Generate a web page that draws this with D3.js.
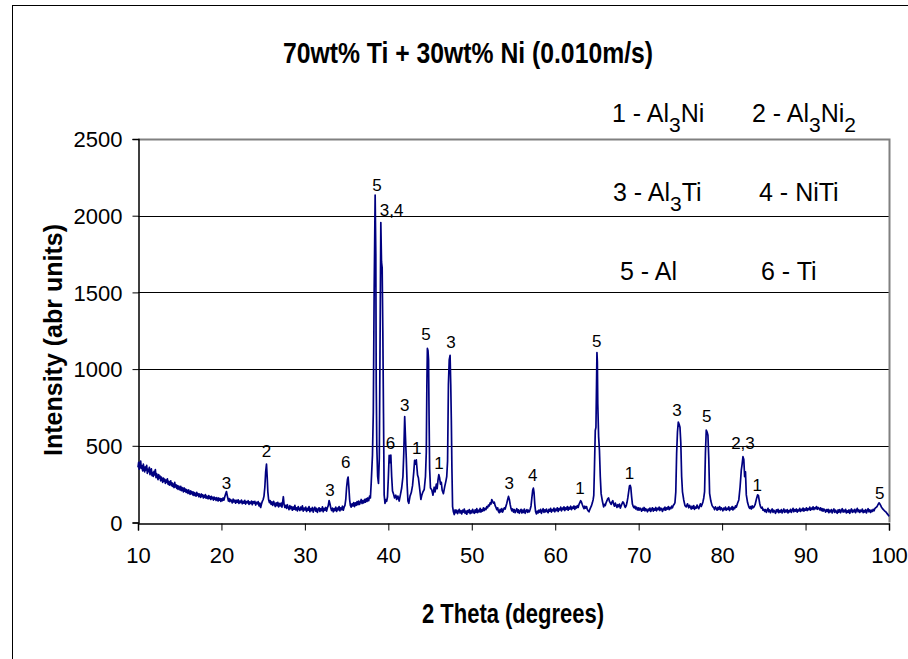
<!DOCTYPE html>
<html><head><meta charset="utf-8">
<script src="https://cdn.jsdelivr.net/npm/d3@7/dist/d3.min.js"></script>
<style>
body{margin:0;background:#fff}
svg{display:block}
text{font-family:"Liberation Sans",Arial,Helvetica,sans-serif;fill:#000}
</style>
</head><body>
<svg id="chart" width="908" height="659"></svg>
<script>
// ---- data ----
const chartTitle = "70wt% Ti + 30wt% Ni (0.010m/s)";
const xTitle = "2 Theta (degrees)";
const yTitle = "Intensity (abr units)";
const xTicks = [10,20,30,40,50,60,70,80,90,100];
const yTicks = [0,500,1000,1500,2000,2500];

// [2theta, intensity]
const spectrum = [
[10.0,360],[10.08,392],[10.16,348],[10.24,378],[10.32,400],[10.4,352],[10.48,370],[10.56,336],[10.64,380],[10.72,350],[10.8,330],[10.88,362],[10.96,342],[11.04,372],[11.12,320],[11.2,346],[11.28,332],[11.36,360],[11.44,312],[11.52,338],[11.6,350],[11.68,305],[11.76,326],[11.84,300],[11.92,334],[12.0,310],[12.08,345],[12.16,292],[12.24,318],[12.32,300],[12.4,280],[12.48,312],[12.56,290],[12.64,302],[12.72,272],[12.8,296],[12.88,284],[12.96,262],[13.04,290],[13.12,270],[13.2,282],[13.28,255],[13.36,276],[13.44,262],[13.52,284],[13.6,250],[13.68,268],[13.76,244],[13.84,262],[13.92,272],[14.0,240],[14.08,258],[14.16,236],[14.24,250],[14.32,228],[14.4,262],[14.48,232],[14.56,246],[14.64,222],[14.72,240],[14.8,216],[14.88,238],[14.96,226],[15.04,212],[15.12,236],[15.2,208],[15.28,228],[15.36,214],[15.44,200],[15.52,226],[15.6,204],[15.68,218],[15.76,196],[15.84,214],[15.92,200],[16.0,190],[16.08,212],[16.16,196],[16.24,184],[16.32,206],[16.4,188],[16.48,200],[16.56,180],[16.64,198],[16.72,176],[16.8,194],[16.88,184],[16.96,172],[17.04,196],[17.12,178],[17.2,188],[17.28,168],[17.36,186],[17.44,174],[17.52,164],[17.6,186],[17.68,170],[17.76,180],[17.84,160],[17.92,176],[18.0,166],[18.08,182],[18.16,158],[18.24,172],[18.32,162],[18.4,154],[18.48,176],[18.56,158],[18.64,168],[18.72,150],[18.8,170],[18.88,156],[18.96,164],[19.04,146],[19.12,166],[19.2,152],[19.28,160],[19.36,144],[19.44,162],[19.52,150],[19.6,140],[19.68,160],[19.76,146],[19.84,156],[19.92,138],
[20.0,154],[20.1,142],[20.2,160],[20.3,146],[20.4,168],[20.5,185],[20.6,202],[20.68,180],[20.76,160],[20.84,140],[20.92,156],[21.0,136],[21.1,150],[21.2,140],[21.3,128],[21.4,152],[21.5,134],[21.6,146],[21.7,126],[21.8,144],[21.9,132],[22.0,148],[22.1,124],[22.2,140],[22.3,130],[22.4,146],[22.5,122],[22.6,138],[22.7,126],[22.8,144],[22.9,120],[23.0,136],[23.1,128],[23.2,142],[23.3,118],[23.4,134],[23.5,124],[23.6,140],[23.7,116],[23.8,136],[23.9,126],[24.0,138],[24.1,114],[24.2,132],[24.3,122],[24.4,136],[24.5,108],[24.6,126],[24.7,98],[24.8,120],[24.9,138],[25.0,150],[25.1,172],[25.2,230],[25.3,330],[25.4,380],[25.48,300],[25.56,200],[25.65,150],[25.75,130],[25.85,142],[25.95,118],[26.05,134],[26.15,112],[26.25,138],[26.35,120],[26.45,104],[26.55,128],[26.65,110],[26.75,132],[26.85,102],[26.95,124],[27.05,108],[27.15,126],[27.25,100],[27.35,140],[27.42,168],[27.5,120],[27.6,98],[27.7,112],[27.8,92],[27.9,116],[28.0,96],[28.1,84],[28.2,110],[28.3,90],[28.4,104],[28.5,80],[28.6,100],[28.7,86],[28.8,112],[28.9,82],[29.0,96],[29.1,76],[29.2,104],[29.3,88],[29.4,78],[29.5,100],[29.6,84],[29.7,108],[29.8,74],[29.9,94],
[30.0,82],[30.1,100],[30.2,72],[30.3,92],[30.4,80],[30.5,104],[30.6,70],[30.7,90],[30.8,78],[30.9,98],[31.0,68],[31.1,88],[31.2,100],[31.3,74],[31.4,92],[31.5,66],[31.6,86],[31.7,96],[31.8,72],[31.9,90],[32.0,78],[32.1,102],[32.2,70],[32.3,92],[32.4,80],[32.5,98],[32.6,74],[32.7,96],[32.8,110],[32.9,143],[33.0,122],[33.1,96],[33.2,78],[33.3,94],[33.4,70],[33.5,90],[33.6,78],[33.7,100],[33.8,72],[33.9,94],[34.0,82],[34.1,104],[34.2,76],[34.3,96],[34.4,84],[34.5,106],[34.6,80],[34.7,100],[34.8,112],[34.9,150],[35.0,230],[35.1,280],[35.18,296],[35.27,230],[35.36,150],[35.45,112],[35.55,100],[35.65,122],[35.75,108],[35.85,130],[35.95,104],[36.05,128],[36.15,112],[36.25,136],[36.35,116],[36.45,140],[36.55,118],[36.65,132],[36.75,150],[36.85,124],[36.95,142],[37.05,128],[37.15,150],[37.25,132],[37.35,156],[37.45,138],[37.55,160],[37.65,142],[37.75,172],[37.85,160],
[37.95,260],[38.1,440],[38.2,720],[38.3,1500],[38.42,2135],[38.5,1750],[38.55,900],[38.62,494],[38.72,300],[38.82,255],[38.92,420],[39.0,1100],[39.1,1955],[39.18,1700],[39.26,1662],[39.34,1250],[39.42,710],[39.5,180],[39.6,125],[39.7,150],[39.8,138],[39.9,168],[40.0,290],[40.1,437],[40.2,390],[40.3,440],[40.4,300],[40.5,205],[40.6,190],[40.75,160],[40.9,178],[41.0,150],[41.15,172],[41.3,140],[41.45,182],[41.6,225],[41.75,300],[41.85,450],[41.96,690],[42.05,560],[42.15,420],[42.25,250],[42.35,140],[42.45,125],[42.6,172],[42.75,195],[42.9,240],[43.05,330],[43.15,405],[43.25,380],[43.35,408],[43.5,310],[43.6,292],[43.75,222],[43.9,150],[44.0,176],[44.15,200],[44.3,215],[44.45,300],[44.55,460],[44.62,900],[44.68,1135],[44.75,1122],[44.82,1060],[44.88,700],[44.95,350],[45.05,225],[45.2,214],[45.35,178],[45.5,230],[45.6,200],[45.75,250],[45.85,220],[45.95,276],[46.05,312],[46.15,290],[46.25,250],[46.35,262],[46.45,210],[46.6,188],[46.75,232],[46.9,270],[47.0,300],[47.1,400],[47.2,900],[47.3,1060],[47.4,1090],[47.48,900],[47.55,667],[47.62,350],[47.7,104],[47.8,70],[47.9,52],[48.0,82],
[48.1,64],[48.2,80],[48.3,58],[48.4,74],[48.5,86],[48.6,62],[48.7,76],[48.8,56],[48.9,80],[49.0,68],[49.1,88],[49.2,60],[49.3,74],[49.4,54],[49.5,78],[49.6,66],[49.7,84],[49.8,58],[49.9,76],[50.0,62],[50.1,86],[50.2,70],[50.3,60],[50.4,82],[50.5,66],[50.6,90],[50.7,64],[50.8,80],[50.9,70],[51.0,92],[51.1,68],[51.2,84],[51.3,74],[51.4,96],[51.5,78],[51.6,92],[51.7,84],[51.8,104],[51.9,96],[52.0,114],[52.1,108],[52.2,128],[52.3,120],[52.4,150],[52.5,138],[52.6,126],[52.7,132],[52.8,110],[52.9,98],[53.0,84],[53.1,96],[53.2,72],[53.3,64],[53.4,86],[53.5,70],[53.6,90],[53.7,68],[53.8,84],[53.9,96],[54.0,88],[54.1,108],[54.2,126],[54.3,150],[54.4,170],[54.5,152],[54.6,118],[54.7,92],[54.8,76],[54.9,88],[55.0,68],[55.1,84],[55.2,64],[55.3,78],[55.4,90],[55.5,66],[55.6,82],[55.7,60],[55.8,76],[55.9,86],[56.0,62],[56.1,80],[56.2,66],[56.3,88],[56.4,60],[56.5,74],[56.6,84],[56.7,66],[56.8,80],[56.9,70],[57.0,86],[57.1,108],[57.2,160],[57.3,210],[57.38,224],[57.46,196],[57.55,120],[57.65,70],[57.75,56],[57.85,74],[57.95,62],[58.05,80],[58.15,68],[58.25,86],[58.35,60],[58.45,76],[58.55,90],[58.65,66],[58.75,82],[58.85,70],[58.95,88],[59.05,72],[59.15,64],[59.25,86],[59.35,74],[59.45,92],[59.55,68],[59.65,84],[59.75,76],[59.85,94],[59.95,70],
[60.05,88],[60.15,78],[60.25,96],[60.35,72],[60.45,90],[60.55,82],[60.65,100],[60.75,76],[60.85,94],[60.95,84],[61.05,102],[61.15,78],[61.25,96],[61.35,86],[61.45,104],[61.55,80],[61.65,98],[61.75,88],[61.85,106],[61.95,84],[62.05,100],[62.15,92],[62.25,108],[62.35,86],[62.45,104],[62.55,94],[62.65,110],[62.75,98],[62.85,118],[62.95,130],[63.05,142],[63.15,132],[63.25,116],[63.35,102],[63.45,90],[63.55,106],[63.65,94],[63.75,104],[63.85,84],[63.95,76],[64.05,70],[64.15,86],[64.25,98],[64.35,110],[64.45,128],[64.55,150],[64.62,177],[64.7,350],[64.8,600],[64.88,620],[64.95,900],[65.0,1108],[65.05,1050],[65.1,773],[65.2,560],[65.3,470],[65.4,300],[65.5,188],[65.65,140],[65.8,102],
[65.9,118],[66.0,110],[66.1,130],[66.2,142],[66.3,156],[66.4,160],[66.5,138],[66.6,128],[66.7,118],[66.8,134],[66.9,142],[67.0,120],[67.1,106],[67.2,126],[67.3,112],[67.4,98],[67.5,116],[67.6,104],[67.7,120],[67.8,94],[67.9,108],[68.0,122],[68.1,134],[68.2,128],[68.3,110],[68.4,98],[68.5,108],[68.6,130],[68.7,160],[68.8,200],[68.9,238],[68.98,242],[69.06,228],[69.15,170],[69.25,120],[69.35,104],[69.45,96],[69.55,106],[69.65,88],[69.75,100],[69.85,82],[69.95,96],
[70.05,80],[70.15,94],[70.25,86],[70.35,74],[70.45,92],[70.55,80],[70.65,98],[70.75,76],[70.85,90],[70.95,82],[71.05,70],[71.15,88],[71.25,78],[71.35,94],[71.45,72],[71.55,86],[71.65,96],[71.75,74],[71.85,90],[71.95,80],[72.05,98],[72.15,76],[72.25,92],[72.35,84],[72.45,100],[72.55,78],[72.65,94],[72.75,86],[72.85,72],[72.95,92],[73.05,82],[73.15,100],[73.25,80],[73.35,96],[73.45,88],[73.55,104],[73.65,84],[73.75,98],[73.85,90],[73.95,106],[74.05,96],[74.15,112],[74.25,118],[74.35,130],
[74.45,200],[74.55,450],[74.65,590],[74.75,654],[74.85,640],[74.95,621],[75.05,520],[75.15,300],[75.25,200],[75.4,147],[75.55,110],[75.7,102],[75.85,122],[76.0,96],[76.1,112],[76.2,100],[76.3,88],[76.4,106],[76.5,92],[76.6,110],[76.7,86],[76.8,100],[76.9,94],[77.0,114],[77.1,98],[77.2,90],[77.3,108],[77.4,122],[77.5,104],[77.6,118],[77.7,134],[77.8,160],[77.9,201],[78.0,450],[78.1,602],[78.2,590],[78.3,569],[78.4,420],[78.5,190],[78.65,140],[78.8,110],[78.9,102],
[79.0,96],[79.1,84],[79.2,102],[79.3,92],[79.4,80],[79.5,98],[79.6,86],[79.7,104],[79.8,82],[79.9,96],[80.0,88],[80.1,76],[80.2,94],[80.3,84],[80.4,100],[80.5,80],[80.6,92],[80.7,86],[80.8,102],[80.9,78],[81.0,94],[81.1,88],[81.2,104],[81.3,82],[81.4,98],[81.5,90],[81.6,108],[81.7,100],[81.85,125],[82.0,147],[82.15,230],[82.3,342],[82.4,380],[82.5,429],[82.6,410],[82.7,299],[82.8,330],[82.9,180],[83.05,130],[83.2,102],[83.3,92],[83.4,104],[83.5,88],[83.6,108],[83.7,96],[83.8,100],[83.95,116],[84.1,150],[84.25,180],[84.35,176],[84.5,126],[84.6,104],[84.7,94],[84.8,100],[84.9,80],
[85.0,86],[85.1,72],[85.2,84],[85.3,66],[85.4,80],[85.5,92],[85.6,70],[85.7,82],[85.8,64],[85.9,78],[86.0,88],[86.1,66],[86.2,80],[86.3,72],[86.4,60],[86.5,82],[86.6,70],[86.7,86],[86.8,64],[86.9,78],[87.0,68],[87.1,84],[87.2,62],[87.3,76],[87.4,88],[87.5,66],[87.6,80],[87.7,70],[87.8,84],[87.9,62],[88.0,78],[88.1,70],[88.2,86],[88.3,66],[88.4,80],[88.5,92],[88.6,70],[88.7,84],[88.8,74],[88.9,88],[89.0,68],[89.1,82],[89.2,76],[89.3,92],[89.4,72],[89.5,86],[89.6,78],[89.7,94],[89.8,74],[89.9,88],
[90.0,80],[90.1,96],[90.2,78],[90.3,90],[90.4,84],[90.5,100],[90.6,80],[90.7,94],[90.8,86],[90.9,102],[91.0,84],[91.1,96],[91.2,90],[91.3,104],[91.4,86],[91.5,98],[91.6,92],[91.7,82],[91.8,96],[91.9,78],[92.0,90],[92.1,74],[92.2,88],[92.3,80],[92.4,68],[92.5,84],[92.6,72],[92.7,86],[92.8,64],[92.9,80],[93.0,70],[93.1,84],[93.2,62],[93.3,78],[93.4,88],[93.5,66],[93.6,80],[93.7,70],[93.8,60],[93.9,82],[94.0,68],[94.1,84],[94.2,64],[94.3,78],[94.4,90],[94.5,68],[94.6,80],[94.7,70],[94.8,86],[94.9,62],[95.0,76],[95.1,66],[95.2,82],[95.3,60],[95.4,78],[95.5,88],[95.6,66],[95.7,80],[95.8,70],[95.9,86],[96.0,64],[96.1,78],[96.2,92],[96.3,70],[96.4,82],[96.5,66],[96.6,80],[96.7,72],[96.8,88],[96.9,64],[97.0,78],[97.1,68],[97.2,84],[97.3,62],[97.4,78],[97.5,90],[97.6,70],[97.7,82],[97.8,66],[97.9,80],[98.0,72],[98.1,86],[98.2,76],[98.3,90],[98.4,96],[98.5,100],[98.6,108],[98.7,118],[98.8,128],[98.9,122],[99.0,112],[99.1,100],[99.2,92],[99.3,86],[99.4,80],[99.5,74],[99.6,70],[99.7,64],[99.8,56],[99.9,50],[100.0,40]
];

// peak annotations: text, 2theta, intensity of label centre
const peakText  = ["3","2","3","6","5","3,4","6","3","1","5","1","3","3","4","1","5","1","3","5","2,3","1","5"];
const peakTheta = [20.6,25.4,33.0,34.9,38.65,40.4,40.25,41.97,43.4,44.5,46.06,47.5,54.5,57.3,62.97,64.98,68.9,74.6,78.15,82.5,84.2,98.9];
const peakLevel = [255,466,215,395,2200,2040,515,764,485,1232,388,1178,258,310,224,1186,324,735,693,520,247,192];

// legend: number and formula ("_" marks a subscript digit)
const legendNum  = ["1","2","3","4","5","6"];
const legendName = ["Al_3Ni","Al_3Ni_2","Al_3Ti","NiTi","Al","Ti"];

// ---- drawing ----
const W = 908, H = 659;
const svg = d3.select("#chart");
svg.append("rect").attr("width",W).attr("height",H).attr("fill","#fff");
// outer frame
svg.append("rect").attr("x",12.5).attr("y",5.5).attr("width",W+20).attr("height",H+20)
  .attr("fill","none").attr("stroke","#000").attr("stroke-width",1);

const x = d3.scaleLinear().domain([10,100]).range([138,889]);
const y = d3.scaleLinear().domain([0,2500]).range([522.5,139]);

// grid lines
svg.append("g").selectAll("line").data(yTicks.filter(v=>v>0 && v<2500)).join("line")
  .attr("x1",x(10)).attr("x2",x(100)).attr("y1",d=>Math.round(y(d))+0.5).attr("y2",d=>Math.round(y(d))+0.5)
  .attr("stroke","#000").attr("stroke-width",1);
// plot border top/right (gray)
svg.append("path")
  .attr("d",`M${x(10)},${Math.round(y(2500))+0.5}H${Math.round(x(100))+0.5}V${y(0)}`)
  .attr("fill","none").attr("stroke","#808080").attr("stroke-width",2);

// axes
const yAxis = d3.axisLeft(y).tickValues(yTicks).tickSize(6).tickPadding(10).tickFormat(d3.format("d"));
const xAxis = d3.axisBottom(x).tickValues(xTicks).tickSize(7).tickPadding(17).tickFormat(d3.format("d"));
const gy = svg.append("g").attr("transform",`translate(${Math.round(x(10))+0.5},0)`).call(yAxis);
const gx = svg.append("g").attr("transform",`translate(0,${Math.round(y(0))+0.5})`).call(xAxis);
[gx,gy].forEach(g=>{
  g.select(".domain").attr("stroke","#000").attr("stroke-width",1.5);
  g.selectAll(".tick line").attr("stroke","#000");
  g.selectAll(".tick text").attr("font-family","Liberation Sans, Arial, sans-serif").attr("font-size",22).attr("fill","#000");
});
gy.selectAll(".tick text").attr("dy","0.35em");
gx.selectAll(".tick text").attr("dy","0.71em");

// spectrum line
const line = d3.line().x(d=>x(d[0])).y(d=>y(d[1]));
svg.append("path").datum(spectrum).attr("d",line)
  .attr("fill","none").attr("stroke","#000080").attr("stroke-width",1.7).attr("stroke-linejoin","round");

// peak labels
svg.append("g").selectAll("text").data(peakText).join("text")
  .attr("x",(d,i)=>x(peakTheta[i])).attr("y",(d,i)=>y(peakLevel[i])+6)
  .attr("text-anchor","middle").attr("font-size",17).text(d=>d);

// titles
svg.append("text").attr("x",468).attr("y",63).attr("text-anchor","middle")
  .attr("font-size",30).attr("font-weight","bold")
  .attr("textLength",370).attr("lengthAdjust","spacingAndGlyphs").text(chartTitle);
svg.append("text").attr("x",513).attr("y",623).attr("text-anchor","middle")
  .attr("font-size",28).attr("font-weight","bold")
  .attr("textLength",182).attr("lengthAdjust","spacingAndGlyphs").text(xTitle);
svg.append("text").attr("transform","translate(62,340) rotate(-90)").attr("text-anchor","middle")
  .attr("font-size",25).attr("font-weight","bold")
  .attr("textLength",232).attr("lengthAdjust","spacingAndGlyphs").text(yTitle);

// legend
const legX = [612,752,613,759,620,761];
const legY = [122,122,201,201,280,280];
legendNum.forEach((n,i)=>{
  const t = svg.append("text").attr("x",legX[i]).attr("y",legY[i]).attr("font-size",25);
  t.append("tspan").text(n+" - ");
  const parts = legendName[i].split(/(_\d)/).filter(s=>s.length);
  let lowered = false;
  parts.forEach(p=>{
    if(p[0]==="_"){
      t.append("tspan").attr("font-size",21).attr("dy",10).text(p.slice(1));
      lowered = true;
    } else {
      const s = t.append("tspan").text(p);
      if(lowered){ s.attr("dy",-10); lowered = false; }
    }
  });
});
</script>
</body></html>
